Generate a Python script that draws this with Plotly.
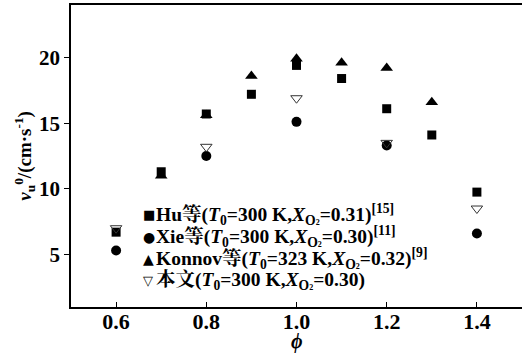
import plotly.graph_objects as go

phi_hu = [0.6, 0.7, 0.8, 0.9, 1.0, 1.1, 1.2, 1.3, 1.4]
v_hu = [6.7, 11.3, 15.7, 17.2, 19.4, 18.4, 16.1, 14.1, 9.75]

phi_xie = [0.6, 0.8, 1.0, 1.2, 1.4]
v_xie = [5.3, 12.5, 15.1, 13.3, 6.6]

phi_konnov = [0.7, 0.8, 0.9, 1.0, 1.1, 1.2, 1.3]
v_konnov = [11.0, 15.6, 18.6, 19.9, 19.6, 19.2, 16.6]

phi_this = [0.6, 0.8, 1.0, 1.2, 1.4]
v_this = [7.0, 13.2, 16.9, 13.5, 8.5]

x_ticks = [0.6, 0.8, 1.0, 1.2, 1.4]
y_ticks = [5, 10, 15, 20]

XO2 = "<i>X</i><sub>O<span style='font-size:8px'>2</span></sub>"
legend_symbols = ["■", "●", "▲", "▽"]
legend_sym_sizes = [13, 14, 14, 13]
legend_texts = [
    f"Hu等(<i>T</i><sub>0</sub>=300 K,{XO2}=0.31)<sup>[15]</sup>",
    f"Xie等(<i>T</i><sub>0</sub>=300 K,{XO2}=0.30)<sup>[11]</sup>",
    f"Konnov等(<i>T</i><sub>0</sub>=323 K,{XO2}=0.32)<sup>[9]</sup>",
    f"本文(<i>T</i><sub>0</sub>=300 K,{XO2}=0.30)",
]

FONT = "Liberation Serif, Noto Serif CJK SC, Noto Sans CJK SC, serif"

fig = go.Figure()
fig.add_trace(go.Scatter(x=phi_hu, y=v_hu, mode="markers",
                         marker=dict(symbol="square", size=9, color="black"), showlegend=False))
fig.add_trace(go.Scatter(x=phi_xie, y=v_xie, mode="markers",
                         marker=dict(symbol="circle", size=10, color="black"), showlegend=False))
fig.add_trace(go.Scatter(x=phi_konnov, y=v_konnov, mode="markers",
                         marker=dict(symbol="triangle-up", size=11, color="black"), showlegend=False))
fig.add_trace(go.Scatter(x=phi_this, y=v_this, mode="markers",
                         marker=dict(symbol="triangle-down-open", size=10, color="#333",
                                     line=dict(width=1, color="#333")), showlegend=False))

ys = [0.307, 0.233, 0.160, 0.087]
for sym, ssz, txt, yy in zip(legend_symbols, legend_sym_sizes, legend_texts, ys):
    fig.add_annotation(x=0.155, y=yy, xref="paper", yref="paper", text=sym,
                       showarrow=False, xanchor="left", yanchor="middle",
                       font=dict(family="DejaVu Sans", size=ssz, color="black"))
    fig.add_annotation(x=0.183, y=yy, xref="paper", yref="paper", text=txt,
                       showarrow=False, xanchor="left", yanchor="middle",
                       font=dict(family=FONT, size=19.5, color="black", weight="bold"))

# axis titles
fig.add_annotation(x=-0.105, y=0.5, xref="paper", yref="paper", textangle=-90,
                   text="<i>v</i><sub>u</sub><sup>0</sup>/(cm·s<sup>-1</sup>)", showarrow=False,
                   xanchor="center", yanchor="middle",
                   font=dict(family=FONT, size=19, color="black", weight="bold"))
fig.add_annotation(x=0.5, y=-0.113, xref="paper", yref="paper", text="<i>ϕ</i>",
                   showarrow=False, xanchor="center", yanchor="middle",
                   font=dict(family=FONT, size=20, color="black", weight="bold"))

fig.update_layout(
    width=522, height=355,
    margin=dict(l=71, r=0, t=5, b=48),
    plot_bgcolor="white", paper_bgcolor="white",
    font=dict(family=FONT, color="black"),
)
fig.update_xaxes(range=[0.5, 1.5], tickvals=x_ticks, ticktext=[f"{v:.1f}" for v in x_ticks],
                 showgrid=False, zeroline=False, showline=True, linecolor="black", linewidth=1.5,
                 mirror=True, ticks="inside", ticklen=5, tickcolor="black",
                 ticklabelstandoff=-6,
                 tickfont=dict(family=FONT, size=22, weight="bold"))
fig.update_yaxes(range=[1, 24], tickvals=y_ticks, showgrid=False, zeroline=False,
                 showline=True, linecolor="black", linewidth=1.5, ticks="outside", ticklen=5,
                 tickcolor="black", tickfont=dict(family=FONT, size=21, weight="bold"))

fig.write_html("out.html")
